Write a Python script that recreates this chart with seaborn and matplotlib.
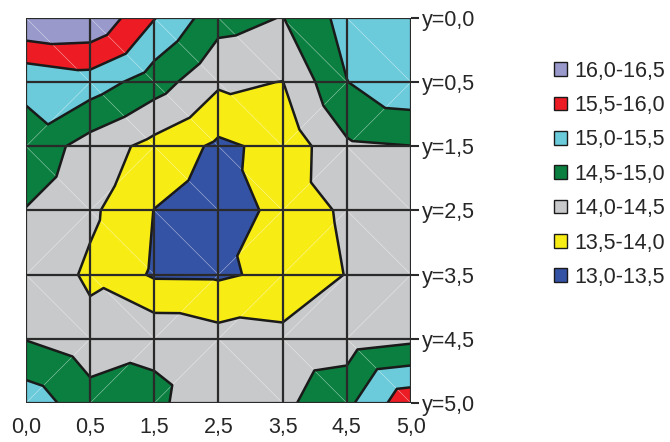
import numpy as np
import matplotlib
matplotlib.use("Agg")
import matplotlib.pyplot as plt
import matplotlib.tri as mtri
from matplotlib.patches import Patch
import seaborn as sns

# categorias de los ejes (espaciadas igual, como en Excel)
x_labels = ["0,0", "0,5", "1,5", "2,5", "3,5", "4,5", "5,0"]
y_labels = ["y=0,0", "y=0,5", "y=1,5", "y=2,5", "y=3,5", "y=4,5", "y=5,0"]

# valores por fila (de y=0,0 arriba a y=5,0 abajo)
row_y00 = [16.50, 16.45, 15.52, 14.69, 14.48, 15.18, 15.30]
row_y05 = [15.08, 15.27, 14.74, 14.08, 13.99, 14.99, 15.39]
row_y15 = [14.86, 14.28, 13.84, 13.40, 13.65, 14.42, 14.49]
row_y25 = [14.48, 14.10, 13.49, 13.20, 13.67, 14.09, 14.30]
row_y35 = [14.43, 13.90, 13.44, 13.43, 13.62, 14.02, 14.25]
row_y45 = [14.48, 14.20, 14.38, 14.19, 14.13, 14.23, 14.39]
row_y50 = [15.29, 14.70, 14.62, 14.11, 14.39, 14.88, 15.86]

levels = [13.0, 13.5, 14.0, 14.5, 15.0, 15.5, 16.0, 16.5]
band_labels = ["13,0-13,5", "13,5-14,0", "14,0-14,5", "14,5-15,0",
               "15,0-15,5", "15,5-16,0", "16,0-16,5"]
band_colors = ["#3553A4", "#F7EC13", "#C8C9CB", "#0A7F3F",
               "#6BCBDB", "#ED1C24", "#9999CC"]

sns.set_style("white")
plt.rcParams["font.family"] = ["Liberation Sans", "DejaVu Sans"]
paleta = sns.color_palette(band_colors)

z = np.array([row_y00, row_y05, row_y15, row_y25, row_y35, row_y45, row_y50])
ny, nx = z.shape
gx, gy = np.meshgrid(np.arange(nx), np.arange(ny))

# dos triangulos por celda; la diagonal se elige como la de mayor suma
tris = []
for j in range(ny - 1):
    for i in range(nx - 1):
        k = j * nx + i
        if z[j, i] + z[j + 1, i + 1] >= z[j, i + 1] + z[j + 1, i]:
            tris.append([k, k + 1, k + nx + 1])
            tris.append([k, k + nx, k + nx + 1])
        else:
            tris.append([k, k + 1, k + nx])
            tris.append([k + 1, k + nx + 1, k + nx])
tri = mtri.Triangulation(gx.ravel(), gy.ravel(), np.array(tris))

fig = plt.figure(figsize=(6.7, 4.42), dpi=100)
ax = fig.add_axes([26 / 670, 1 - 403 / 442, 385 / 670, 385 / 442])

ax.tricontourf(tri, z.ravel(), levels=levels, colors=paleta)
ax.triplot(tri, color="white", lw=0.4, alpha=0.6)
ax.tricontour(tri, z.ravel(), levels=levels, colors="#1a1a1a", linewidths=1.8)

for i in range(nx):
    ax.axvline(i, color="#2a2a2a", lw=1.6, zorder=5)
for j in range(ny):
    ax.axhline(j, color="#2a2a2a", lw=1.6, zorder=5)

ax.set_xlim(0, nx - 1)
ax.set_ylim(ny - 1, 0)
ax.set_xticks(range(nx))
ax.set_xticklabels(x_labels)
ax.set_yticks(range(ny))
ax.set_yticklabels(y_labels)
ax.yaxis.tick_right()
ax.tick_params(axis="both", direction="out", length=6, width=1.5,
               color="#2a2a2a", labelsize=15.5, pad=2)
ax.tick_params(axis="x", pad=4)
for s in ax.spines.values():
    s.set_visible(False)

handles = [Patch(facecolor=c, edgecolor="#1a1a1a", linewidth=1.0) for c in band_colors]
ax.legend(handles[::-1], band_labels[::-1], loc="upper left",
          bbox_to_anchor=(543 / 670, 1 - 50 / 442), bbox_transform=fig.transFigure,
          frameon=False, fontsize=15.5, handlelength=0.6, handleheight=0.6,
          handletextpad=0.35, labelspacing=0.62, borderpad=0)

fig.savefig("out.png", dpi=100)
